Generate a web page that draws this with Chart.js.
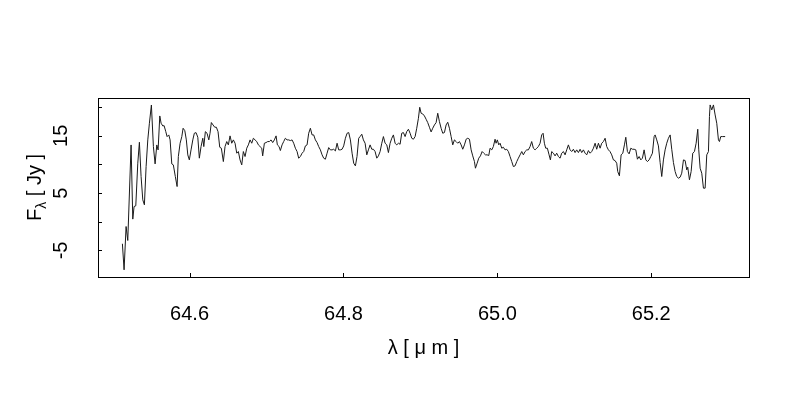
<!DOCTYPE html>
<html><head><meta charset="utf-8">
<script src="https://cdn.jsdelivr.net/npm/chart.js@4"></script>
<style>html,body{margin:0;padding:0;background:#fff}canvas{display:block}</style>
</head><body>
<canvas id="c" width="800" height="400"></canvas>
<script>
// wavelength (micron)
const wavelength = [
64.5127,64.5149,64.5175,64.5197,64.5240,64.5262,64.5279,64.5301,64.5327,64.5348,
64.5370,64.5392,64.5413,64.5435,64.5457,64.5478,64.5504,64.5530,64.5552,64.5574,
64.5591,64.5613,64.5630,64.5652,64.5669,64.5691,64.5708,64.5730,64.5747,64.5769,
64.5789,64.5815,64.5838,64.5854,64.5877,64.5899,64.5916,64.5938,64.5958,64.5977,
64.5997,64.6019,64.6042,64.6062,64.6084,64.6107,64.6127,64.6149,64.6172,64.6185,
64.6205,64.6227,64.6250,64.6266,64.6283,64.6305,64.6327,64.6348,64.6370,64.6392,
64.6413,
64.6439,64.6461,64.6483,64.6504,64.6526,64.6548,64.6569,64.6591,64.6613,64.6634,
64.6656,64.6678,64.6699,64.6721,64.6743,64.6764,64.6786,64.6808,64.6829,64.6851,
64.6873,64.6894,64.6916,64.6938,64.6950,64.6972,64.6994,64.7015,64.7037,64.7059,
64.7080,64.7102,64.7124,64.7141,64.7163,64.7180,64.7202,64.7223,64.7245,64.7267,
64.7288,64.7310,64.7332,64.7353,64.7375,64.7397,64.7418,64.7440,64.7462,64.7483,
64.7505,64.7527,64.7548,64.7570,64.7592,64.7613,64.7635,64.7657,64.7678,64.7700,
64.7722,64.7743,64.7765,64.7787,64.7808,64.7830,64.7852,64.7873,64.7895,64.7917,
64.7938,64.7960,64.7982,64.8003,64.8025,64.8047,64.8068,64.8090,64.8112,64.8133,
64.8155,64.8176,64.8198,
64.8216,64.8238,64.8259,64.8281,64.8303,64.8324,64.8346,64.8368,64.8389,64.8411,
64.8433,64.8454,64.8476,64.8498,64.8519,64.8541,64.8563,64.8584,64.8606,64.8628,
64.8649,64.8671,64.8692,64.8714,64.8736,64.8757,64.8779,64.8801,64.8822,64.8844,
64.8866,64.8887,64.8909,64.8931,64.8952,64.8974,64.8991,64.9009,64.9030,64.9052,
64.9074,64.9095,64.9117,64.9139,64.9160,64.9182,64.9204,64.9225,64.9247,64.9269,
64.9290,64.9312,64.9334,64.9355,64.9377,64.9399,64.9420,64.9442,64.9464,64.9485,
64.9507,64.9529,64.9550,64.9572,64.9594,64.9615,64.9637,64.9659,64.9680,64.9702,
64.9715,64.9737,64.9758,64.9780,64.9802,64.9823,64.9845,64.9867,64.9888,
64.9905,64.9927,64.9948,64.9970,64.9983,65.0000,65.0018,65.0035,65.0057,65.0078,
65.0100,65.0122,65.0143,65.0165,65.0187,65.0208,65.0230,65.0252,65.0273,65.0295,
65.0317,65.0338,65.0360,65.0382,65.0403,65.0425,65.0446,65.0468,65.0490,65.0511,
65.0533,65.0555,65.0576,65.0594,65.0611,65.0628,65.0650,65.0672,65.0689,65.0706,
65.0728,65.0750,65.0771,65.0793,65.0815,65.0836,65.0858,65.0880,65.0901,65.0923,
65.0945,65.0966,65.0988,65.1010,65.1031,65.1053,65.1075,65.1096,65.1118,65.1140,
65.1161,65.1183,65.1205,65.1226,65.1248,65.1270,65.1291,65.1313,65.1335,65.1356,
65.1378,65.1400,65.1421,65.1443,65.1464,65.1486,65.1508,65.1529,65.1551,65.1564,
65.1586,
65.1608,65.1630,65.1651,65.1669,65.1690,65.1712,65.1734,65.1755,65.1777,65.1799,
65.1820,65.1842,65.1864,65.1885,65.1907,65.1929,65.1950,65.1972,65.1994,65.2015,
65.2037,65.2050,65.2071,65.2093,65.2115,65.2136,65.2158,65.2180,65.2201,65.2223,
65.2245,65.2266,65.2288,65.2310,65.2331,65.2353,65.2375,65.2396,65.2418,65.2440,
65.2461,65.2474,65.2496,65.2518,65.2539,65.2561,65.2583,65.2604,65.2617,65.2635,
65.2656,65.2678,65.2700,65.2721,65.2743,65.2756,65.2765,65.2786,65.2808,65.2830,
65.2851,65.2873,65.2886,65.2903,65.2929,65.2960
];
// flux density (Jy)
const flux = [
-3.83,-8.38,-0.82,-3.26,13.41,0.47,2.67,2.79,10.23,13.88,
7.89,3.83,2.96,9.63,14.29,17.2,20.38,13.12,10.1,13.41,
12.54,18.47,17.2,16.72,16.78,15.73,14.86,15.16,14.29,10.1,
9.93,7.89,6.15,11.38,13.7,14.86,16.32,15.9,14.29,11.67,
10.8,12.54,14.29,15.45,15.56,14.76,11.1,13.12,14.58,13.12,
15.73,15.45,14.29,15.45,17.32,16.9,16.5,16.5,15.73,13.01,
12.84,
10.51,13.13,14.0,13.42,14.99,13.71,14.29,13.71,11.97,12.26,
10.8,9.93,12.26,11.39,12.84,13.42,14.29,13.71,14.58,14.29,
14.0,13.42,13.13,12.84,11.5,13.71,13.82,14.0,14.0,14.29,
13.82,14.29,14.99,13.42,13.13,12.43,13.42,14.0,14.58,14.29,
14.29,14.17,14.29,13.71,12.84,12.26,11.1,11.39,11.97,12.26,
13.24,13.42,15.45,16.32,15.16,15.16,14.29,13.82,13.13,12.55,
11.68,11.1,10.92,11.97,12.95,12.55,12.55,12.66,12.37,13.71,
12.55,12.55,12.66,13.24,14.58,15.45,15.57,14.29,11.97,10.22,
9.76,11.39,14.58,
14.87,15.28,14.29,13.71,11.68,12.55,13.42,12.66,12.66,12.26,
11.1,11.5,12.26,13.71,14.87,13.71,13.42,12.08,13.71,14.58,
15.16,13.71,13.42,13.71,13.53,15.45,15.57,14.87,15.74,16.15,
15.45,14.58,14.41,14.87,16.32,18.06,19.98,18.94,18.82,18.47,
17.89,17.31,16.5,15.68,16.32,16.9,17.31,18.94,17.48,16.32,
15.45,15.57,16.9,17.37,16.32,14.87,13.42,14.29,14.0,13.71,
14.0,13.42,12.66,13.42,14.41,14.58,14.41,12.55,11.5,10.51,
9.35,10.22,11.1,11.5,12.26,11.97,11.68,11.68,11.56,
12.84,12.55,13.13,14.41,13.71,14.29,13.42,13.71,12.84,13.01,
12.55,12.66,12.26,11.39,10.51,9.64,9.76,10.51,11.1,11.68,
12.26,11.68,12.26,12.55,12.55,13.13,14.0,12.84,12.55,12.84,
13.13,13.71,15.16,15.45,13.71,12.84,12.84,11.68,10.8,12.26,
11.97,11.5,11.97,11.39,11.1,11.97,12.26,11.68,12.55,13.42,
12.55,12.26,12.66,12.08,12.55,12.08,12.66,12.08,12.55,11.97,
11.68,12.43,11.97,12.26,12.84,13.71,12.66,13.71,12.84,13.71,
14.0,14.58,13.13,12.55,12.26,11.68,10.8,10.69,10.22,8.77,
8.02,
11.68,11.97,13.42,14.75,12.26,11.85,12.84,12.66,12.66,12.55,
10.92,11.39,10.8,11.1,12.55,10.8,10.51,10.8,11.39,11.97,
14.87,15.16,14.29,13.24,10.34,7.9,10.8,12.55,13.71,14.58,
15.16,12.66,10.34,8.77,7.9,7.61,7.79,8.48,10.8,10.69,
9.06,9.53,7.32,8.77,11.97,12.26,13.71,16.15,12.55,9.35,
8.48,5.87,5.87,11.68,12.26,18.35,20.39,19.52,20.39,18.64,
17.19,14.29,14.0,14.87,14.87,14.87
];
const xTickValues = [64.6, 64.8, 65.0, 65.2];
const xTickLabels = ['64.6', '64.8', '65.0', '65.2'];
const yTickValues = [-5, 0, 5, 10, 15, 20];
const yTickLabels = ['-5', '', '5', '', '15', ''];
const xAxisTitle = 'λ [ μ m ]';
const yAxisTitle = ['F', 'λ', ' [ Jy ]'];

const FONT = 'Liberation Sans, Arial, sans-serif';
const points = wavelength.map((w, i) => ({x: w, y: flux[i]}));

const framePlugin = {
  id: 'frame',
  afterDraw(chart) {
    const {ctx, chartArea: a, scales} = chart;
    ctx.save();
    ctx.strokeStyle = '#000';
    ctx.lineWidth = 1;
    ctx.strokeRect(Math.round(a.left) + 0.5, Math.round(a.top) + 0.5,
                   Math.round(a.right - a.left), Math.round(a.bottom - a.top));
    ctx.beginPath();
    xTickValues.forEach(v => {
      const px = Math.round(scales.x.getPixelForValue(v)) + 0.5;
      ctx.moveTo(px, a.bottom); ctx.lineTo(px, a.bottom - 4);
    });
    yTickValues.forEach(v => {
      const py = Math.round(scales.y.getPixelForValue(v)) + 0.5;
      ctx.moveTo(a.left, py); ctx.lineTo(a.left + 4, py);
    });
    ctx.stroke();
    // y axis title with subscript
    const cy = (a.top + a.bottom) / 2;
    ctx.translate(41, cy);
    ctx.rotate(-Math.PI / 2);
    ctx.fillStyle = '#000';
    ctx.textBaseline = 'alphabetic';
    const big = '20px ' + FONT, small = '14px ' + FONT;
    ctx.font = big; const w1 = ctx.measureText(yAxisTitle[0]).width;
    const w3 = ctx.measureText(yAxisTitle[2]).width;
    ctx.font = small; const w2 = ctx.measureText(yAxisTitle[1]).width;
    let x = -(w1 + w2 + w3) / 2;
    ctx.font = big; ctx.fillText(yAxisTitle[0], x, 0); x += w1;
    ctx.font = small; ctx.fillText(yAxisTitle[1], x, 5); x += w2;
    ctx.font = big; ctx.fillText(yAxisTitle[2], x, 0);
    ctx.restore();
  }
};

new Chart(document.getElementById('c'), {
  type: 'line',
  data: { datasets: [{ data: points, borderColor: '#1a1a1a', borderWidth: 1,
    pointRadius: 0, tension: 0, fill: false }] },
  options: {
    responsive: false, animation: false, devicePixelRatio: 1,
    layout: { padding: { left: 0, right: 51, top: 98, bottom: 0 } },
    plugins: { legend: { display: false }, tooltip: { enabled: false } },
    scales: {
      x: {
        type: 'linear', min: 64.481, max: 65.327,
        grid: { display: false, drawTicks: false }, border: { display: false },
        afterBuildTicks: s => { s.ticks = xTickValues.map(v => ({value: v})); },
        afterFit: s => { s.height = 123; },
        ticks: { autoSkip: false, maxRotation: 0, minRotation: 0, padding: 25,
          color: '#000', font: { family: FONT, size: 20 },
          callback: (v, i) => xTickLabels[i] },
        title: { display: true, text: xAxisTitle, color: '#000',
          font: { family: FONT, size: 20 }, padding: { top: 0, bottom: 40 } }
      },
      y: {
        type: 'linear', min: -9.63, max: 21.6,
        grid: { display: false, drawTicks: false }, border: { display: false },
        afterBuildTicks: s => { s.ticks = yTickValues.map(v => ({value: v})); },
        afterFit: s => { s.width = 98; },
        ticks: { autoSkip: false, minRotation: 90, maxRotation: 90, padding: 25,
          crossAlign: 'center', color: '#000', font: { family: FONT, size: 20 },
          callback: (v, i) => yTickLabels[i] }
      }
    }
  },
  plugins: [framePlugin]
});
</script>
</body></html>
